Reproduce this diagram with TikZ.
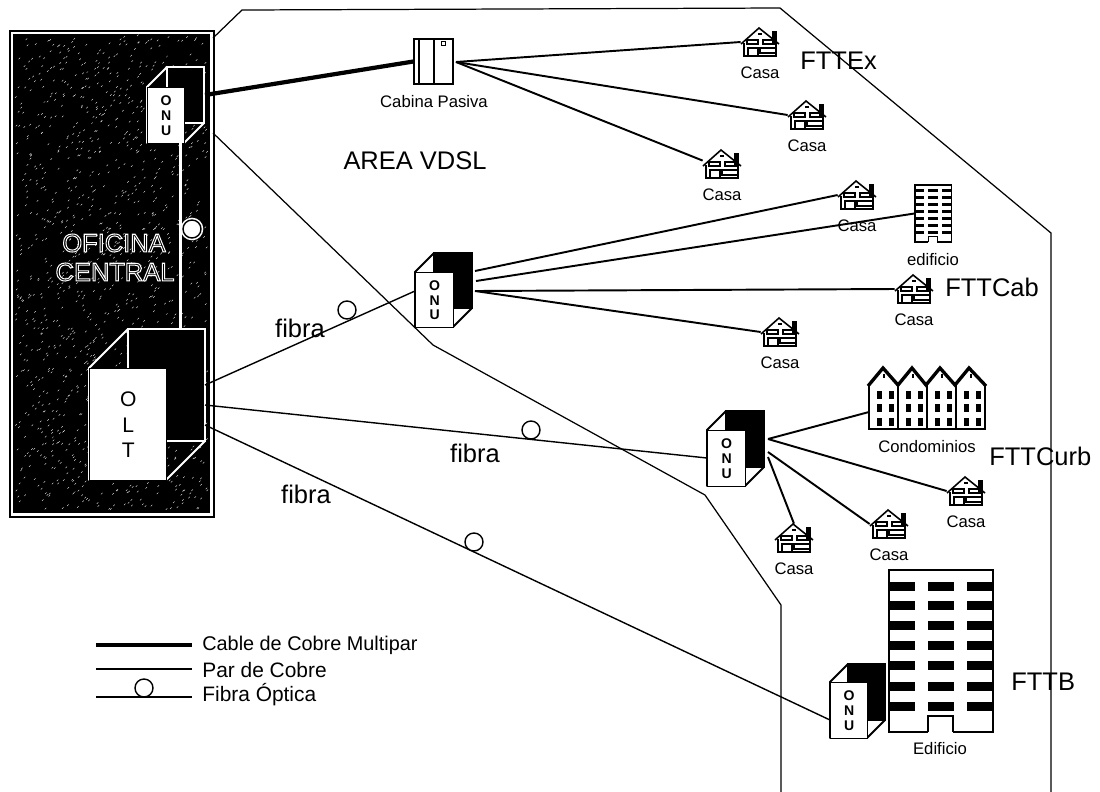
\documentclass[tikz,border=0pt]{standalone}
\usepackage{fontspec}
\setmainfont{Liberation Sans}
\newfontfamily\contornofont[FakeBold=4]{Liberation Sans}
\usetikzlibrary{calc}

\tikzset{
    cobre/.style={line width=1.1pt, black},
    multipar/.style={line width=2.4pt, black},
    fibra/.style={line width=.8pt, black},
    limite/.style={line width=.7pt, black},
    lazo/.style={circle, draw=black, fill=white, line width=.8pt, minimum size=.36cm, inner sep=0pt},
    halo/.style={preaction={draw=white, line width=2.6pt}},
    grande/.style={font=\fontsize{14.5}{17}\selectfont, inner sep=0pt},
    chico/.style={font=\fontsize{9.5}{11}\selectfont, inner sep=0pt},
    leyenda/.style={font=\fontsize{11.9}{14}\selectfont, anchor=west, inner sep=0pt},
    frente/.style={draw=black, fill=white, line width=.8pt, inner sep=0pt, anchor=north west, align=center},
    onutxt/.style={font=\fontsize{8}{8.5}\selectfont\bfseries},
    olttxt/.style={font=\fontsize{12}{14.5}\selectfont},
    caja/.style={inner sep=0pt},
    casadib/.pic={
        \fill[white] (-16,-2) rectangle (16,14);
        \fill[black] (12,-11) rectangle (17,1);
        \draw[line width=.9pt] (-19,2) -- (-1,-14) -- (19,2);
        \draw[line width=.6pt] (-16,1) -- (-16,14);
        \draw[line width=.6pt] (16,1) -- (16,14);
        \draw[line width=1.1pt] (-17,14) -- (17,14);
        \fill[black] (-2,-9) rectangle (2,-7);
        \draw[line width=1.1pt] (-13,-2) rectangle (-2,2);
        \draw[line width=1.1pt] (3,-2) rectangle (14,2);
        \draw[line width=.7pt] (-12,14) -- (-12,6) -- (-2,6) -- (-2,14);
        \draw[line width=1.1pt] (0,6) rectangle (16,11);
    },
    edifdib/.pic={
        \fill[white] (-52,-81) rectangle (52,81);
        \draw[line width=.8pt] (-13,81) -- (-13,65) -- (12,65) -- (12,81);
        \draw[line width=.8pt] (-13,81) -- (-52,81) -- (-52,-81) -- (52,-81) -- (52,81) -- (12,81);
        \foreach \fila in {-65,-46,-26,-6,14,35,55} {
            \foreach \col in {-52,-13,26} {
                \fill[black] (\col,\fila-4.5) rectangle (\col+26,\fila+4.5);
            }
        }
    },
}

\newcommand{\equipo}[9]{%
    \draw[#8, fill=black, line width=1.1pt] ({#2+#6},{#3-#6}) rectangle ({#2+#4+#6},{#3+#5-#6});
    \draw[#8, line width=1.1pt, line join=round] (#2,#3) -- ({#2+#6},{#3-#6}) -- ({#2+#4+#6},{#3-#6})
        -- ({#2+#4+#6},{#3+#5-#6}) -- ({#2+#4},{#3+#5}) -- (#2,{#3+#5}) -- cycle;
    \node[frente, #7, minimum width=#4*0.02cm, minimum height=#5*0.02cm] (#1) at (#2,#3) {#9};
}
\newcommand{\casa}[3]{%
    \node[caja, minimum width=.76cm, minimum height=.56cm] (#1) at (#2,#3) {};
    \pic at (#2,#3) {casadib};
    \node[chico] (#1txt) at (#2,{#3+31}) {Casa};
}

\begin{document}
\begin{tikzpicture}[x=0.02cm, y=-0.02cm]
    \useasboundingbox (0,0) rectangle (1100,792);

    % --- Limites de las areas ---
    \draw[limite] (213,38) -- (242,10) -- (780,8) -- (1051,233) -- (1051,792);
    \draw[limite] (213,133) -- (433,345) -- (705,495) -- (781,605) -- (781,792);

    % --- Oficina central ---
    \draw[line width=.9pt] (10,31) rectangle (214,517);
    \fill[black] (13,34) rectangle (210,513);
    \pgfmathsetseed{7}
    \foreach \i in {1,...,1300} {
        \pgfmathsetmacro\sx{15+rnd*192}
        \pgfmathsetmacro\sy{36+rnd*474}
        \draw[white, line width=.2pt] (\sx,\sy) -- ++(1.5,-1.5);
    }
    \node[grande] (oficina) at (114,243) {\contornofont\special{pdf:code 1 1 1 RG}OFICINA};
    \node[grande] (central) at (115,272) {\contornofont\special{pdf:code 1 1 1 RG}CENTRAL};

    % --- Equipos ---
    \equipo{onua}{147}{87}{37}{56}{20}{onutxt}{white}{O\\N\\U}
    \equipo{olt}{89}{368}{77}{112}{39}{olttxt}{white}{O\\L\\T}
    \equipo{onub}{415}{272}{38}{55}{19}{onutxt}{black}{O\\N\\U}
    \equipo{onuc}{707}{430}{38}{56}{19}{onutxt}{black}{O\\N\\U}
    \equipo{onud}{830}{682}{37}{56}{18}{onutxt}{black}{O\\N\\U}

    % --- Cabina pasiva ---
    \node[caja, draw=black, line width=.7pt, minimum width=.78cm, minimum height=.9cm] (cabina) at (433.5,61.5) {};
    \draw[line width=.7pt] (419,39) -- (419,84);
    \draw[line width=.7pt] (434,39) -- (434,84);
    \draw[line width=.4pt] (441,41) rectangle (445,45);
    \node[chico] (cabinatxt) at (434,102) {Cabina Pasiva};

    % --- Casas ---
    \casa{casaa}{760}{42}
    \casa{casab}{807}{115}
    \casa{casac}{722}{164}
    \casa{casad}{857}{195}
    \casa{casae}{914}{289}
    \casa{casaf}{780}{332}
    \casa{casag}{966}{491}
    \casa{casah}{889}{524}
    \casa{casai}{794}{538}

    % --- Edificios ---
    \node[caja, minimum width=.73cm, minimum height=1.14cm] (edifa) at (933,213.5) {};
    \pic[scale=.35] at (933,213.5) {edifdib};
    \node[chico] (edifatxt) at (933,260) {edificio};
    \node[caja, minimum width=2.08cm, minimum height=3.24cm] (edifb) at (941,651) {};
    \pic at (941,651) {edifdib};
    \node[chico] (edifbtxt) at (940,749) {Edificio};

    % --- Condominios ---
    \node[caja, minimum width=2.34cm, minimum height=1.24cm] (condo) at (927,398) {};
    \draw[line width=.8pt] (869,385) -- (869,429) -- (985,429) -- (985,385);
    \foreach \u in {0,1,2,3} {
        \pgfmathsetmacro\ux{869+\u*29}
        \draw[line width=.8pt] (\ux,385) -- (\ux,429);
        \fill[black] (\ux+13.5,374) rectangle +(2,4);
        \foreach \fy in {391,404,418} {
            \fill[black] (\ux+8,\fy) rectangle +(5,8);
            \fill[black] (\ux+20,\fy) rectangle +(5,8);
        }
    }
    \draw[line width=1.9pt, line join=miter] (868,386) -- (883,368) -- (898,385) -- (912,368)
        -- (926,385) -- (940,368) -- (955,385) -- (969,368) -- (986,386);
    \node[chico] (condotxt) at (927,447) {Condominios};

    % --- Puntos de salida y llegada ---
    \coordinate (salonua) at (205,95);
    \coordinate (salcab) at (456,62);
    \coordinate (salba) at (475,271);
    \coordinate (salbb) at (476,281);
    \coordinate (salbc) at (475,291);
    \coordinate (salca) at (768,439);
    \coordinate (salcb) at (768,452);
    \coordinate (salcc) at (768,457);
    \coordinate (lleonub) at (415,291);
    \coordinate (lleonuc) at (707,458);
    \coordinate (lleonud) at (830,720);
    \coordinate (saloa) at (205,385);
    \coordinate (salob) at (205,405);
    \coordinate (saloc) at (205,425);
    \coordinate (llecondo) at (869,412);

    % --- Cable de cobre ---
    \draw[multipar] (salonua) -- (cabina.west);
    \draw[cobre] (salcab) -- (casaa.west);
    \draw[cobre] (salcab) -- (casab.west);
    \draw[cobre] (salcab) -- (casac.170);
    \draw[cobre] (salba) -- (casad.west);
    \draw[cobre] (salbb) -- (edifa.west);
    \draw[cobre] (salbc) -- (casae.west);
    \draw[cobre] (salbc) -- (casaf.west);
    \draw[cobre] (salca) -- (llecondo);
    \draw[cobre] (salca) -- (casag.west);
    \draw[cobre] (salcb) -- (casah.west);
    \draw[cobre] (salcc) -- (casai.north);

    % --- Fibra ---
    \draw[white, line width=1.5pt] (180.5,143) -- (180.5,329);
    \node[lazo, halo] (lazoa) at (192,229) {};
    \draw[fibra] (saloa) -- (lleonub);
    \node[lazo] (lazob) at (347,310) {};
    \draw[fibra] (salob) -- (lleonuc);
    \node[lazo] (lazoc) at (531,430) {};
    \draw[fibra] (saloc) -- (lleonud);
    \node[lazo] (lazod) at (474,542) {};

    % --- Textos ---
    \node[grande] (areatxt) at (415,161) {AREA VDSL};
    \node[grande, anchor=west] (fttex) at (800,61) {FTTEx};
    \node[grande, anchor=west] (fttcab) at (945,287) {FTTCab};
    \node[grande, anchor=west] (fttcurb) at (989,456) {FTTCurb};
    \node[grande, anchor=west] (fttb) at (1011,682) {FTTB};
    \node[grande] (fibraa) at (300,328) {fibra};
    \node[grande] (fibrab) at (475,453) {fibra};
    \node[grande] (fibrac) at (306,494) {fibra};

    % --- Leyenda ---
    \coordinate (leyaa) at (96,645);
    \coordinate (leyab) at (192,645);
    \coordinate (leyba) at (96,669);
    \coordinate (leybb) at (192,669);
    \coordinate (leyca) at (96,697);
    \coordinate (leycb) at (192,697);
    \draw[multipar] (leyaa) -- (leyab);
    \draw[fibra] (leyba) -- (leybb);
    \draw[fibra] (leyca) -- (leycb);
    \node[lazo] (lazoley) at (144,688) {};
    \node[leyenda, font=\fontsize{11.3}{14}\selectfont] (leytxta) at (202,645) {Cable de Cobre Multipar};
    \node[leyenda] (leytxtb) at (202,670) {Par de Cobre};
    \node[leyenda] (leytxtc) at (202,695) {Fibra Óptica};
\end{tikzpicture}
\end{document}
